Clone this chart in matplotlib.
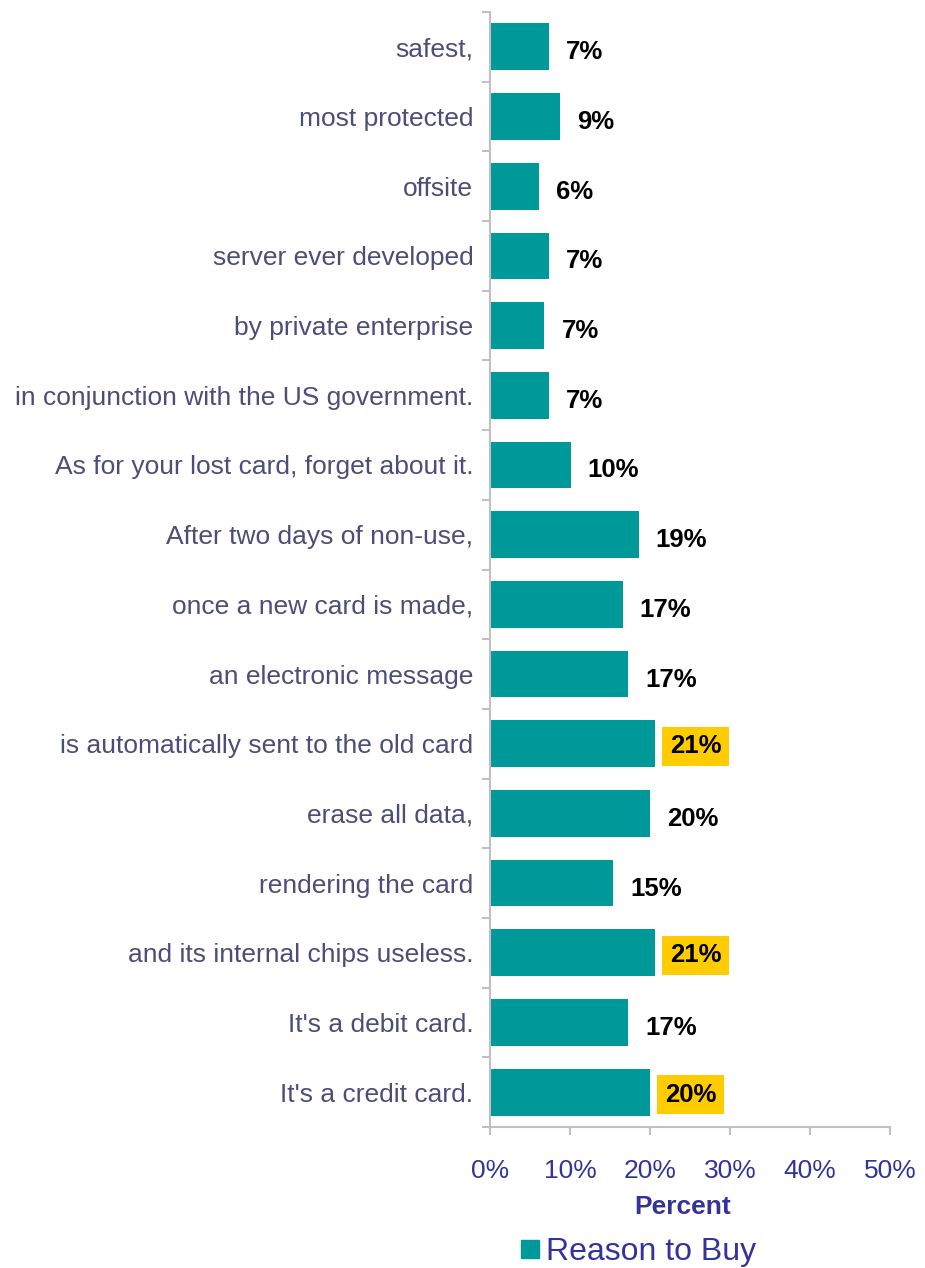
import matplotlib
matplotlib.use("Agg")
import matplotlib.pyplot as plt
from matplotlib.lines import Line2D
import numpy as np

plt.rcParams['font.family'] = ['Liberation Sans', 'DejaVu Sans']

# Statements, listed top to bottom
categories = [
    "safest,",
    "most protected",
    "offsite",
    "server ever developed",
    "by private enterprise",
    "in conjunction with the US government.",
    "As for your lost card, forget about it.",
    "After two days of non-use,",
    "once a new card is made,",
    "an electronic message",
    "is automatically sent to the old card",
    "erase all data,",
    "rendering the card",
    "and its internal chips useless.",
    "It's a debit card.",
    "It's a credit card.",
]
values = [7.4, 8.75, 6.1, 7.4, 6.8, 7.4, 10.1, 18.6, 16.6, 17.25,
          20.6, 20.0, 15.4, 20.6, 17.25, 20.0]
highlight = [False, False, False, False, False, False, False, False, False, False,
             True, False, False, True, False, True]
xticks = [0, 10, 20, 30, 40, 50]
series_name = "Reason to Buy"
x_title = "Percent"

BAR = "#009999"
AXIS = "#C0C0C0"
CAT_COLOR = "#4D4D7A"
NAVY = "#333399"
BOX = "#FFCC00"

fig = plt.figure(figsize=(9.25, 12.68), dpi=100)
ax = fig.add_axes([490/925, 1 - 1127/1268, 400/925, (1127 - 12)/1268])

n = len(categories)
y = np.arange(n)
ax.barh(y, values, height=0.67, color=BAR, zorder=2)
ax.set_ylim(n - 0.5, -0.5)
ax.set_xlim(0, 50)

# category labels, with tick marks on the slot boundaries
ax.set_yticks(y)
ax.set_yticklabels(categories, fontsize=19, color=CAT_COLOR)
ax.tick_params(axis='y', which='major', length=0, pad=12)
ax.set_yticks(np.arange(-0.5, n, 1.0), minor=True)
ax.tick_params(axis='y', which='minor', length=6, width=1.5, color=AXIS, direction='out')

ax.set_xticks(xticks)
ax.set_xticklabels([f"{t}%" for t in xticks], fontsize=19, color=NAVY)
ax.tick_params(axis='x', which='major', length=6, width=1.5, color=AXIS, pad=17)
ax.set_xlabel(x_title, fontsize=19, color=NAVY, fontweight='bold')
ax.xaxis.set_label_coords(0.4825, -0.061)

for side in ('top', 'right'):
    ax.spines[side].set_visible(False)
for side in ('left', 'bottom'):
    ax.spines[side].set_color(AXIS)
    ax.spines[side].set_linewidth(1.5)

# value labels; some sit on a yellow box
for yi, v, hl in zip(y, values, highlight):
    kw = dict(fontsize=18.5, fontweight='bold', color='black',
              va='center_baseline', ha='left')
    if hl:
        kw['bbox'] = dict(boxstyle='square,pad=0.3', facecolor=BOX, edgecolor='none')
        ax.annotate(f"{v:.0f}%", xy=(v, yi), xytext=(15, 0),
                    textcoords='offset pixels', **kw)
    else:
        ax.annotate(f"{v:.0f}%", xy=(v, yi), xytext=(17, -3),
                    textcoords='offset pixels', **kw)

handle = Line2D([], [], marker='s', linestyle='none', markersize=12.5,
                markerfacecolor=BAR, markeredgecolor=BAR)
fig.legend([handle], [series_name], loc='center',
           bbox_to_anchor=(637/925, 1 - 1252/1268), frameon=False,
           fontsize=23, labelcolor=NAVY, handletextpad=0.1, handlelength=0.8)

fig.savefig("out.png", dpi=100)
